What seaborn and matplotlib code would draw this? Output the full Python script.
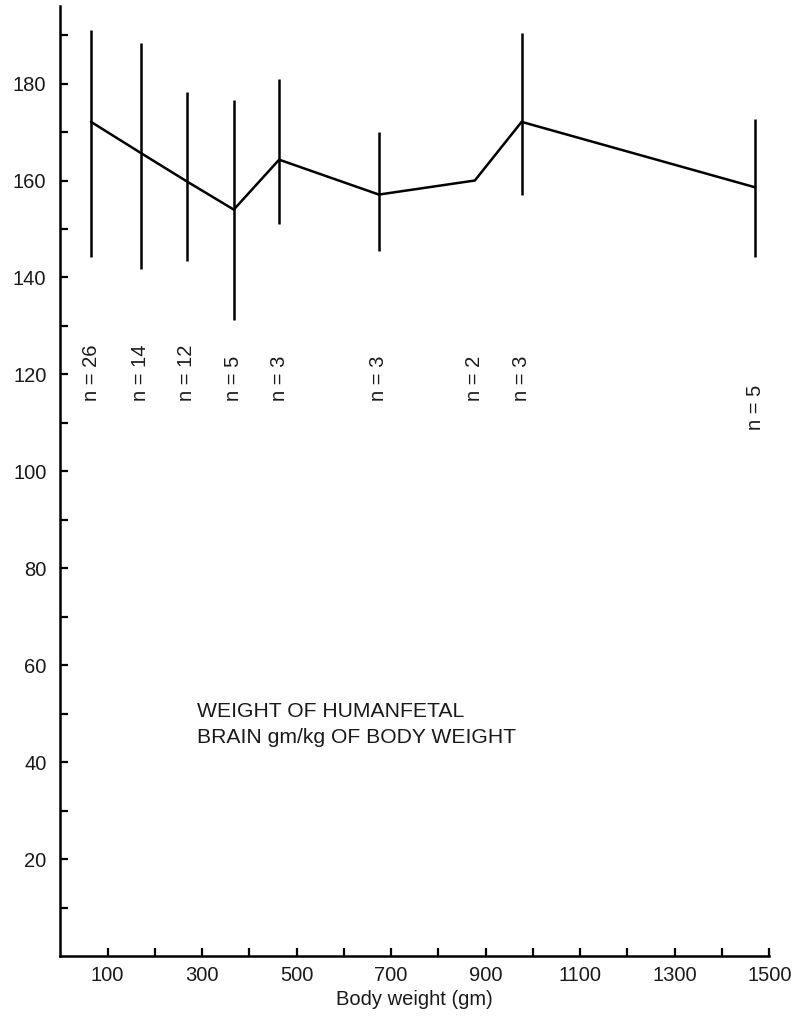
import numpy as np
import pandas as pd
import matplotlib
matplotlib.use("Agg")
import matplotlib.pyplot as plt
import seaborn as sns

# ---- data ----
body_weight = [65, 170, 268, 367, 463, 674, 877, 976, 1470]
brain_ratio = [172.1, 165.7, 159.8, 154.0, 164.3, 157.1, 160.0, 172.1, 158.6]
err_upper = [191.0, 188.4, 178.3, 176.6, 180.9, 170.0, np.nan, 190.5, 172.7]
err_lower = [144.3, 141.7, 143.4, 131.3, 151.1, 145.4, np.nan, 157.1, 144.3]
n_labels = ["n = 26", "n = 14", "n = 12", "n = 5", "n = 3", "n = 3", "n = 2", "n = 3", "n = 5"]

x_ticks = list(range(100, 1600, 100))
x_ticklabels = [str(v) if (v // 100) % 2 == 1 else "" for v in x_ticks]
y_ticks = list(range(10, 200, 10))
y_ticklabels = [str(v) if v % 20 == 0 else "" for v in y_ticks]

sns.set_theme(style="ticks")
plt.rcParams["font.family"] = ["Liberation Sans", "DejaVu Sans"]

df = pd.DataFrame({"w": body_weight, "r": brain_ratio,
                   "lo": err_lower, "hi": err_upper, "n": n_labels})

fig = plt.figure(figsize=(8.01, 10.22), dpi=100)
ax = fig.add_axes([0.0753, 0.0646, 0.9604 - 0.0753, 0.9941 - 0.0646])

sns.lineplot(data=df, x="w", y="r", ax=ax, color="black", lw=1.8,
             sort=False, estimator=None)
for line in ax.get_lines():
    line.set_solid_joinstyle("miter")

eb = df.dropna(subset=["lo", "hi"])
ax.vlines(eb["w"], eb["lo"], eb["hi"], color="black", lw=1.8)

# sample-size labels
for i, row in df.iterrows():
    ybase = 108.5 if i == len(df) - 1 else 114.6
    ax.text(row["w"], ybase, row["n"], rotation=90, ha="center", va="bottom",
            fontsize=14.5, color="#1a1a1a")

ax.text(290, 52.3, "WEIGHT OF HUMANFETAL\nBRAIN gm/kg OF BODY WEIGHT",
        ha="left", va="top", fontsize=15.2, color="#1a1a1a", linespacing=1.42)

ax.set_xlim(0, 1500)
ax.set_ylim(0, 196)
ax.set_xticks(x_ticks)
ax.set_xticklabels(x_ticklabels)
ax.set_yticks(y_ticks)
ax.set_yticklabels(y_ticklabels)
ax.tick_params(axis="both", direction="in", length=5.5, width=1.6,
               labelsize=14.5, colors="black", labelcolor="#1a1a1a")
ax.tick_params(axis="x", pad=7)
ax.tick_params(axis="y", pad=10)
ax.set_xlabel("Body weight (gm)", fontsize=14.5, labelpad=4, color="#1a1a1a")
ax.set_ylabel("")

sns.despine(ax=ax)
for s in ["left", "bottom"]:
    ax.spines[s].set_linewidth(1.8)
    ax.spines[s].set_color("black")

fig.savefig("out.png", dpi=100)
